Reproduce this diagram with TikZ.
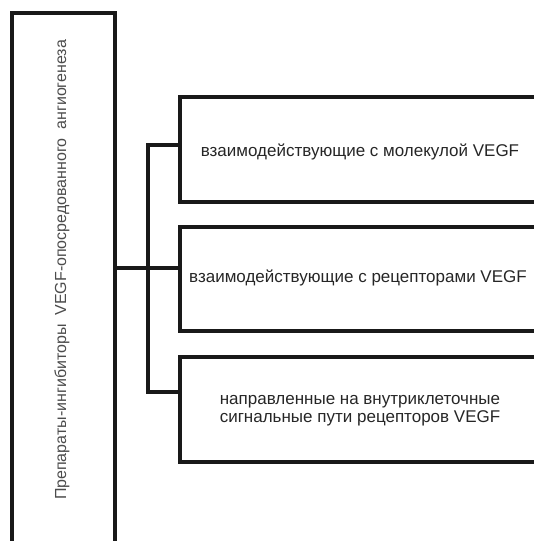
\documentclass[tikz,border=0pt]{standalone}
\usepackage{fontspec}
\setmainfont{Liberation Sans}
\begin{document}
\begin{tikzpicture}[x=1pt,y=-1pt,
  frame/.style={draw=black!90, line width=3.8pt},
  wire/.style={draw=black!90, line width=3.8pt},
  lbl/.style={text=black!85, font=\fontsize{17}{18}\selectfont, align=center, inner sep=0pt},
  vlbl/.style={text=black!70, font=\fontsize{16}{18}\selectfont, rotate=90, inner sep=0pt}]
\useasboundingbox (0,0) rectangle (534,541);
% left box
\draw[frame] (12,560) -- (12,13) -- (115,13) -- (115,560);
\coordinate (L) at (115,268);
\node[vlbl] (lt) at (62,270) {Препараты-ингибиторы\ \ VEGF-опосредованного\ \ ангиогенеза};
% right boxes
\draw[frame] (545,97) -- (180,97) -- (180,202) -- (545,202);
\draw[frame] (545,227) -- (180,227) -- (180,331) -- (545,331);
\draw[frame] (545,357) -- (180,357) -- (180,462) -- (545,462);
\coordinate (b1) at (180,145);
\coordinate (b2) at (180,268);
\coordinate (b3) at (180,392);
\node[lbl] (t1) at (360,152) {взаимодействующие с молекулой VEGF};
\node[lbl] (t2) at (358,278) {взаимодействующие с рецепторами VEGF};
\node[lbl] (t3) at (360,411) {направленные на внутриклеточные\\сигнальные пути рецепторов VEGF};
% connectors
\draw[wire] (L) -- (b2);
\draw[wire] (b1) -| (148,392) -- (b3);
\end{tikzpicture}
\end{document}
